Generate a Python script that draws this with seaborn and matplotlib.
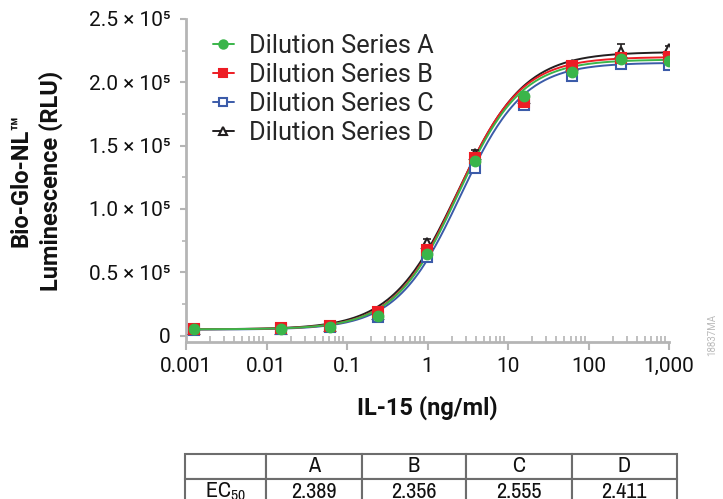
import numpy as np
import pandas as pd
import matplotlib
matplotlib.use("Agg")
import matplotlib.pyplot as plt
import seaborn as sns
from matplotlib import font_manager
from matplotlib.lines import Line2D
from matplotlib.ticker import FixedLocator, LogLocator, NullFormatter

# IL-15 concentrations (ng/ml)
conc = [0.00125, 0.0153, 0.061, 0.244, 0.977, 3.91, 15.6, 62.5, 250, 1000]

# luminescence readings (RLU)
series_a = [5000, 5500, 7000, 15800, 64500, 138000, 189500, 208000, 218500, 216500]
series_b = [5000, 5800, 8000, 19000, 68000, 140500, 184500, 213000, 219000, 220000]
series_c = [4800, 5300, 7200, 14500, 62000, 132000, 182000, 205000, 214500, 213500]
series_d = [5000, 5500, 8000, 17000, 73000, 143500, 188000, 214000, 224000, 226500]

err_a = [700, 600, 800, 1500, 2500, 3000, 3000, 2500, 3000, 2000]
err_b = [700, 600, 800, 2500, 2500, 3000, 3500, 4000, 4000, 2500]
err_c = [700, 600, 800, 1500, 2500, 3000, 3000, 2500, 3000, 2000]
err_d = [700, 600, 800, 1500, 3000, 3000, 3000, 3000, 6000, 2000]

# four-parameter logistic fit parameters
labels = ["A", "B", "C", "D"]
ec50 = [2.389, 2.356, 2.555, 2.411]
bottoms = [5000, 5000, 4800, 5000]
tops = [218000, 220000, 215500, 224000]
hills = [1.1, 1.1, 1.1, 1.05]

y_ticks = [0, 50000, 100000, 150000, 200000, 250000]
y_tick_labels = ["0", "0.5 × 10⁵", "1.0 × 10⁵", "1.5 × 10⁵", "2.0 × 10⁵", "2.5 × 10⁵"]
x_ticks = [0.001, 0.01, 0.1, 1, 10, 100, 1000]
x_tick_labels = ["0.001", "0.01", "0.1", "1", "10", "100", "1,000"]

sns.set_theme(style="white")

# pick a condensed face for the table if one is installed
narrow, stretch = "Roboto", "normal"
for f in font_manager.fontManager.ttflist:
    if "Narrow" in f.name:
        narrow, stretch = f.name, "normal"
        break
else:
    for f in font_manager.fontManager.ttflist:
        if f.stretch == "condensed" and f.weight in (400, "normal"):
            narrow, stretch = f.name, "condensed"
            break

plt.rcParams["font.family"] = ["Roboto", "DejaVu Sans"]
plt.rcParams["mathtext.fontset"] = "custom"
plt.rcParams["mathtext.rm"] = narrow

colors = {"A": "#3ab54a", "B": "#ed1c24", "C": "#3b5ba9", "D": "#231f20"}
markers = {"A": dict(marker="o", mfc="#3ab54a", mec="#3ab54a"),
           "B": dict(marker="s", mfc="#ed1c24", mec="#ed1c24"),
           "C": dict(marker="s", mfc="white", mec="#3b5ba9"),
           "D": dict(marker="^", mfc="white", mec="#231f20")}

values = dict(zip(labels, [series_a, series_b, series_c, series_d]))
errors = dict(zip(labels, [err_a, err_b, err_c, err_d]))

fig = plt.figure(figsize=(7.23, 4.99), dpi=100)
ax = fig.add_axes([186 / 723, 1 - 342 / 499, 483 / 723, 323 / 499])

# fitted curves
xs = np.logspace(np.log10(conc[0]), np.log10(conc[-1]), 300)
for i in [3, 2, 1, 0]:
    k = labels[i]
    ys = bottoms[i] + (tops[i] - bottoms[i]) / (1 + (ec50[i] / xs) ** hills[i])
    fit = pd.DataFrame({"x": xs, "y": ys})
    sns.lineplot(data=fit, x="x", y="y", color=colors[k], lw=1.4, ax=ax)

# data points with error bars
for k in ["D", "C", "B", "A"]:
    ax.errorbar(conc, values[k], yerr=errors[k], fmt="none", ecolor=colors[k],
                elinewidth=1.2, capsize=3, capthick=1.2, zorder=3)
    ax.plot(conc, values[k], ls="none", ms=7, mew=1.5, zorder=4, **markers[k])

ax.set_xscale("log")
ax.set_xlim(0.001, 1000)
ax.set_ylim(-5000, 250000)

ax.xaxis.set_major_locator(FixedLocator(x_ticks))
ax.set_xticklabels(x_tick_labels)
ax.xaxis.set_minor_locator(LogLocator(base=10, subs=np.arange(2, 10), numticks=20))
ax.xaxis.set_minor_formatter(NullFormatter())
ax.yaxis.set_major_locator(FixedLocator(y_ticks))
ax.set_yticklabels(y_tick_labels)
ax.yaxis.set_minor_locator(FixedLocator([25000, 75000, 125000, 175000, 225000]))

gray = "#b5b5b5"
for s in ["top", "right"]:
    ax.spines[s].set_visible(False)
for s in ["left", "bottom"]:
    ax.spines[s].set_color(gray)
    ax.spines[s].set_linewidth(2)

ax.tick_params(axis="x", which="major", direction="out", length=6, width=1.5,
               color=gray, labelsize=15, pad=5, bottom=True)
ax.tick_params(axis="x", which="minor", direction="in", length=4, width=1.2,
               color=gray, bottom=True)
ax.tick_params(axis="y", which="major", direction="out", length=4, width=1.5,
               color=gray, labelsize=15, pad=7, left=True)
ax.tick_params(axis="y", which="minor", direction="out", length=3, width=1.2,
               color=gray, left=True)
for t in ax.get_xticklabels() + ax.get_yticklabels():
    t.set_color("#111111")

ax.set_xlabel("IL-15 (ng/ml)", fontsize=17, fontweight="bold", color="#111111")
ax.xaxis.set_label_coords(0.5, -0.165)
ax.set_ylabel("Bio-Glo-NL™\nLuminescence (RLU)", fontsize=17, fontweight="bold",
              color="#111111", linespacing=1.3)
ax.yaxis.set_label_coords(-0.255, 0.5)

handles = [Line2D([], [], color=colors[k], lw=1.4, ms=6, mew=1.5, **markers[k])
           for k in labels]
ax.legend(handles, ["Dilution Series " + k for k in labels], loc="upper left",
          bbox_to_anchor=(0.034, 0.985), frameon=False, fontsize=18.3,
          handlelength=0.85, handletextpad=0.6, labelspacing=0.2,
          borderaxespad=0.0)

fig.text(712 / 723, 1 - 335 / 499, "18837MA", rotation=90, fontsize=7,
         color="#bbbbbb", ha="center", va="center")

# EC50 table
tax = fig.add_axes([185 / 723, 1 - 504.6 / 499, 491.5 / 723, 51 / 499])
tax.axis("off")
widths = [80.6, 96, 104.4, 105.8, 104.7]
tot = sum(widths)
cells = [[""] + labels, [r"EC$_{50}$"] + [f"{v:.3f}" for v in ec50]]
tbl = tax.table(cellText=cells, cellLoc="center", bbox=[0, 0, 1, 1],
                colWidths=[w / tot for w in widths])
tbl.auto_set_font_size(False)
for (r, c), cell in tbl.get_celld().items():
    cell.set_edgecolor("#6d6d6d")
    cell.set_linewidth(1.5)
    txt = cell.get_text()
    txt.set_fontsize(16)
    txt.set_fontfamily(narrow)
    txt.set_fontstretch(stretch)
    txt.set_color("#111111")

fig.savefig("out.png", dpi=100)
